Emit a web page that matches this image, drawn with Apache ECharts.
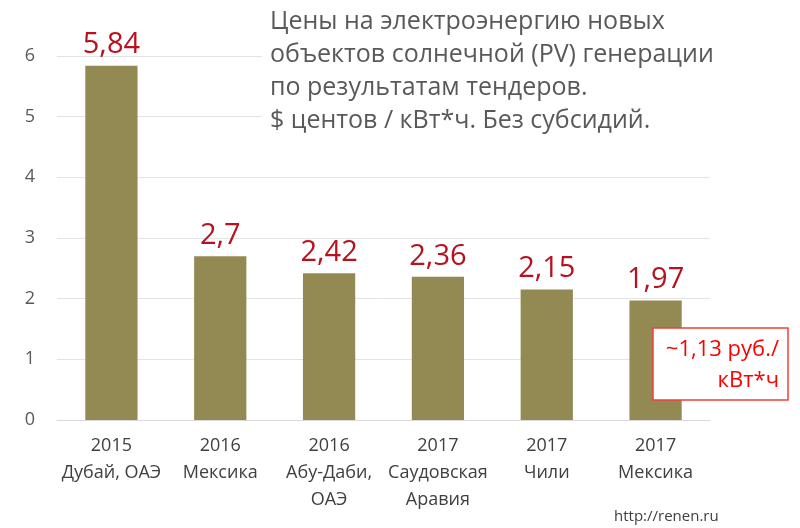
<!DOCTYPE html>
<html><head><meta charset="utf-8">
<script src="https://cdn.jsdelivr.net/npm/echarts@6/dist/echarts.min.js"></script>
<style>html,body{margin:0;padding:0;background:#fff}#c{width:800px;height:528px}</style>
</head><body><div id="c"></div>
<script>
const categories = ["2015\nДубай, ОАЭ", "2016\nМексика", "2016\nАбу-Даби,\nОАЭ", "2017\nСаудовская\nАравия", "2017\nЧили", "2017\nМексика"];
const prices = [5.84, 2.7, 2.42, 2.36, 2.15, 1.97];
const yTicks = [0, 1, 2, 3, 4, 5, 6];
const titleLines = ["Цены на электроэнергию новых", "объектов солнечной (PV) генерации", "по результатам тендеров.", "$ центов / кВт*ч. Без субсидий."];
const noteText = "~1,13 руб./\nкВт*ч";
const sourceText = "http://renen.ru";

const FONT = "'Open Sans', 'Noto Sans', sans-serif";
const chart = echarts.init(document.getElementById('c'), null, {renderer: 'canvas'});
chart.setOption({
  backgroundColor: '#fff',
  animation: false,
  textStyle: {fontFamily: FONT},
  grid: {left: 57, right: 90, top: 56, bottom: 108},
  title: {
    text: titleLines.join('\n'),
    left: 262, top: 1,
    backgroundColor: '#fff',
    padding: [4, 8, 4, 8],
    textStyle: {fontFamily: FONT, fontSize: 25, fontWeight: 'normal', color: '#595959', lineHeight: 33}
  },
  xAxis: {
    type: 'category',
    data: categories,
    axisTick: {show: false},
    axisLine: {lineStyle: {color: '#d9d9d9', width: 1}},
    axisLabel: {fontFamily: FONT, fontSize: 18, color: '#404040', lineHeight: 27, margin: 12, interval: 0}
  },
  yAxis: {
    type: 'value',
    min: yTicks[0], max: yTicks[yTicks.length - 1], interval: 1,
    axisLine: {show: false},
    axisTick: {show: false},
    splitLine: {lineStyle: {color: '#e3e3e3', width: 1}},
    axisLabel: {fontFamily: FONT, fontSize: 18, color: '#595959', margin: 22}
  },
  series: [{
    type: 'bar',
    data: prices,
    barWidth: '48%',
    itemStyle: {color: '#938953'},
    label: {
      show: true, position: 'top', distance: 6,
      fontFamily: FONT, fontSize: 29, color: '#B7121F',
      formatter: p => String(p.value).replace('.', ',')
    }
  }],
  graphic: [
    {type: 'rect', shape: {x: 653, y: 328, width: 135, height: 72},
     style: {fill: '#fff', stroke: '#F0403C', lineWidth: 1.5}, z: 100},
    {type: 'text', x: 779, y: 334, z: 101,
     style: {text: noteText, fill: '#FF0000', font: '22px ' + FONT, align: 'right', verticalAlign: 'top', lineHeight: 31}},
    {type: 'text', x: 614, y: 509, z: 101,
     style: {text: sourceText, fill: '#404040', font: '15px ' + FONT}}
  ]
});
</script></body></html>
